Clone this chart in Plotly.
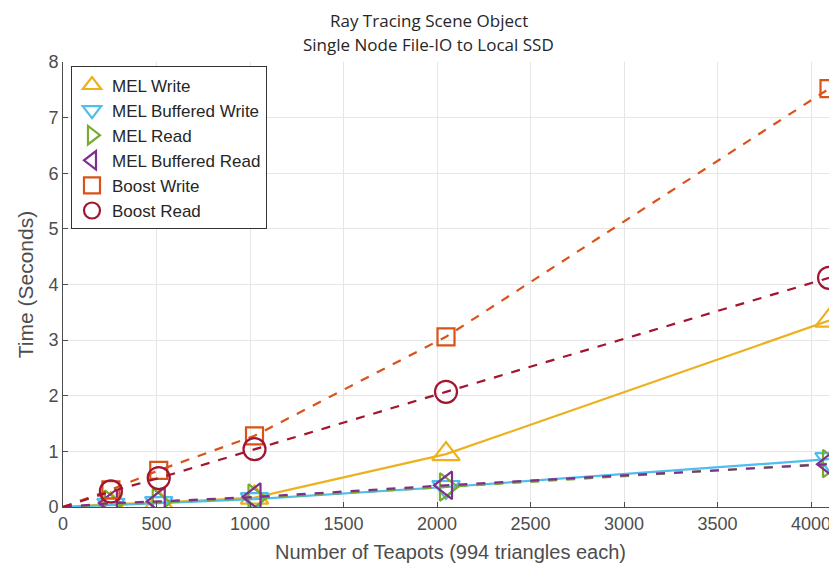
import plotly.graph_objects as go

teapots = [256, 512, 1024, 2048, 4096]
series_names = ["MEL Write", "MEL Buffered Write", "MEL Read", "MEL Buffered Read", "Boost Write", "Boost Read"]
mel_write = [0.05, 0.08, 0.17, 0.95, 3.35]
mel_buf_write = [0.04, 0.07, 0.14, 0.36, 0.86]
mel_read = [0.05, 0.08, 0.16, 0.36, 0.78]
mel_buf_read = [0.07, 0.10, 0.18, 0.39, 0.77]
boost_write = [0.31, 0.66, 1.28, 3.06, 7.52]
boost_read = [0.28, 0.52, 1.04, 2.07, 4.12]
x_ticks = [0, 500, 1000, 1500, 2000, 2500, 3000, 3500, 4000]
y_ticks = [0, 1, 2, 3, 4, 5, 6, 7, 8]
title_lines = ["Ray Tracing Scene Object", "Single Node File-IO to Local SSD"]

values = [mel_write, mel_buf_write, mel_read, mel_buf_read, boost_write, boost_read]
colors = ["#EDB120", "#4DBEEE", "#77AC30", "#7E2F8E", "#D95319", "#A2142F"]
dashes = ["solid", "solid", "dash", "dash", "dash", "dash"]
symbols = ["triangle-up-open", "triangle-down-open", "triangle-right-open",
           "triangle-left-open", "square-open", "circle-open"]
sizes = [24, 24, 24, 24, 17, 22]

fig = go.Figure()
for name, ys, c, d, s, sz in zip(series_names, values, colors, dashes, symbols, sizes):
    fig.add_trace(go.Scatter(x=[0] + teapots, y=[0] + ys, mode="lines",
                             line=dict(color=c, width=2.2, dash=d),
                             showlegend=False, hoverinfo="skip"))
    fig.add_trace(go.Scatter(x=teapots, y=ys, mode="markers", name=name,
                             marker=dict(symbol=s, size=sz, color=c,
                                         line=dict(color=c, width=2.2))))

for txt, yp in zip(title_lines, [1.094, 1.040]):
    fig.add_annotation(text=txt, xref="paper", yref="paper", x=0.472, y=yp,
                       xanchor="center", yanchor="middle", showarrow=False,
                       font=dict(family="Open Sans, Noto Sans, sans-serif", size=17, color="#262626"))

fig.update_layout(
    width=837, height=569,
    margin=dict(l=55, r=7, t=54, b=70, autoexpand=False),
    paper_bgcolor="white", plot_bgcolor="white",
    font=dict(family="Liberation Sans, Arial, sans-serif", color="#404040"),
    legend=dict(x=0.0103, y=0.99, xanchor="left", yanchor="top",
                bgcolor="white", bordercolor="#333333", borderwidth=1,
                font=dict(size=17, color="#262626"),
                tracegroupgap=0, itemsizing="trace", itemwidth=30),
)
fig.update_xaxes(range=[0, 4144], tickvals=x_ticks, showgrid=True, gridcolor="#e6e6e6",
                 gridwidth=1, zeroline=False, showline=True, linecolor="#4d4d4d", linewidth=1,
                 ticks="inside", ticklen=5, tickcolor="#4d4d4d", automargin=False,
                 tickfont=dict(size=18, color="#4d4d4d"),
                 title=dict(text="Number of Teapots (994 triangles each)",
                            font=dict(size=20, color="#4d4d4d"), standoff=12))
fig.update_yaxes(range=[0, 8], tickvals=y_ticks, showgrid=True, gridcolor="#e6e6e6",
                 gridwidth=1, zeroline=False, showline=True, linecolor="#4d4d4d", linewidth=1,
                 ticks="inside", ticklen=5, tickcolor="#4d4d4d", automargin=False,
                 tickfont=dict(size=18, color="#4d4d4d"),
                 title=dict(text="Time (Seconds)", font=dict(size=21, color="#4d4d4d"), standoff=9))

fig.write_html("out.html")
